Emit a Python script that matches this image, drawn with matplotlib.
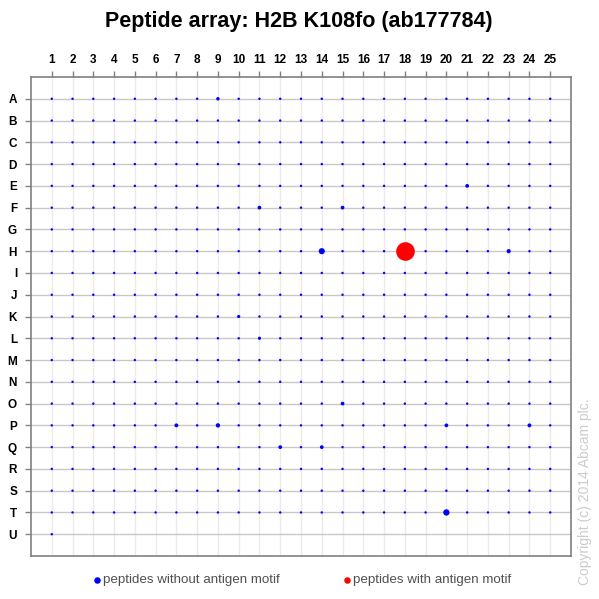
import numpy as np
import matplotlib
matplotlib.use("Agg")
import matplotlib.pyplot as plt

plt.rcParams["font.family"] = ["Liberation Sans", "DejaVu Sans"]

# array layout
row_labels = list("ABCDEFGHIJKLMNOPQRSTU")
col_labels = [str(i) for i in range(1, 26)]
n_full_rows = 20          # rows A..T are complete, row U has a single spot
u_row_cols = [1]

# background spot signal (arbitrary units) and the spots that stand out
base_signal = 1.0
strong_rows = ["A", "E", "F", "F", "H", "H", "O", "P", "P", "P", "P", "Q", "Q", "T", "K", "L"]
strong_cols = [9, 21, 11, 15, 14, 23, 15, 7, 9, 20, 24, 12, 14, 20, 10, 11]
strong_vals = [1.7, 1.9, 1.9, 1.9, 3.8, 2.2, 1.9, 2.0, 2.3, 1.9, 2.0, 1.9, 1.9, 4.0, 1.5, 1.5]

# peptides carrying the antigen motif
motif_rows = ["H"]
motif_cols = [18]
motif_vals = [30.0]

# build the blue spot table
sig = {}
for r in row_labels[:n_full_rows]:
    for c in range(1, 26):
        sig[(r, c)] = base_signal
for c in u_row_cols:
    sig[("U", c)] = base_signal
for r, c, v in zip(strong_rows, strong_cols, strong_vals):
    sig[(r, c)] = v

bx = [c for (r, c) in sig]
by = [row_labels.index(r) + 1 for (r, c) in sig]
bs = [3.0 * sig[k] ** 1.4 for k in sig]

rx = motif_cols
ry = [row_labels.index(r) + 1 for r in motif_rows]
rs = [6.0 * v for v in motif_vals]

fig = plt.figure(figsize=(5.99, 5.99), dpi=100)
ax = fig.add_axes([31 / 599, 1 - 556 / 599, 540 / 599, 479 / 599])

# grid: grey horizontal lines at rows, faint vertical lines at columns
for i in range(1, len(row_labels) + 1):
    ax.axhline(i, color="#c8c8c8", linewidth=1.0, zorder=1)
for j in range(1, 26):
    ax.axvline(j, color="#ebebeb", linewidth=1.0, zorder=0)

ax.scatter(bx, by, s=bs, c="#0000ff", linewidths=0, zorder=3)
ax.scatter(rx, ry, s=rs, c="#ff0000", linewidths=0, zorder=4)

ax.set_xlim(0, 26)
ax.set_ylim(22, 0)

ax.xaxis.tick_top()
ax.set_xticks(range(1, 26))
ax.set_xticklabels(col_labels, fontsize=8.5, fontweight="bold")
ax.set_yticks(range(1, len(row_labels) + 1))
ax.set_yticklabels(row_labels, fontsize=8.5, fontweight="bold")
ax.tick_params(axis="x", length=4, width=1, color="#808080", pad=4)
ax.tick_params(axis="y", length=4, width=1, color="#808080", pad=6)

for side in ["left", "top", "right", "bottom"]:
    ax.spines[side].set_color("#808080")
    ax.spines[side].set_linewidth(1.2)

fig.text(299 / 599, 1 - 21 / 599, "Peptide array: H2B K108fo (ab177784)",
         ha="center", va="center", fontsize=15.5, fontweight="bold")

# legend drawn in pixel coordinates
lax = fig.add_axes([0, 0, 1, 1], facecolor="none")
lax.set_xlim(0, 599)
lax.set_ylim(599, 0)
lax.axis("off")
lax.scatter([97], [580], s=22, c="#0000ff", linewidths=0)
lax.text(103, 580, "peptides without antigen motif", va="center", ha="left",
         fontsize=9.6, color="#505050")
lax.scatter([347], [580], s=22, c="#ff0000", linewidths=0)
lax.text(353, 580, "peptides with antigen motif", va="center", ha="left",
         fontsize=9.6, color="#505050")

fig.text(585 / 599, 1 - 492 / 599, "Copyright (c) 2014 Abcam plc.",
         rotation=90, ha="center", va="center", fontsize=10, color="#cccccc")

fig.savefig("out.png", dpi=100, facecolor="white")
plt.close(fig)
